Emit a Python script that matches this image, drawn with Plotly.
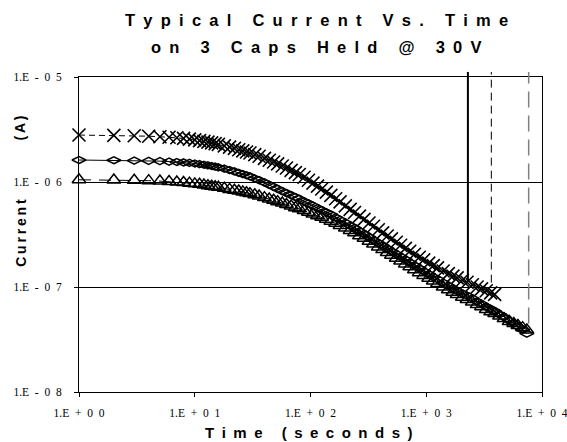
import math
import plotly.graph_objects as go

# ---------------- data ----------------
time_s = [1, 2, 3, 4, 5, 6, 7, 8, 9, 10, 11, 12, 13, 14, 15, 16, 18, 20, 22, 24, 26, 28, 30,
          33, 36, 40, 44, 48, 52, 57, 62, 68, 74, 80, 88, 96,
          105, 115, 125, 137, 150, 165, 180, 200, 220, 240, 265, 290, 320, 350, 385, 420, 460, 500,
          550, 600, 660, 720, 790, 870, 950, 1050, 1150, 1250,
          1400, 1550, 1700, 1850, 2050, 2250, 2500, 2750, 3000, 3300, 3600, 3900,
          4300, 4700, 5200, 5700, 6200, 6800, 7400]

cap_x_current = [2.80e-6, 2.78e-6, 2.76e-6, 2.73e-6, 2.70e-6, 2.67e-6, 2.64e-6, 2.60e-6, 2.56e-6, 2.52e-6,
                 2.48e-6, 2.44e-6, 2.40e-6, 2.36e-6, 2.32e-6, 2.28e-6, 2.21e-6, 2.15e-6, 2.09e-6, 2.03e-6,
                 1.98e-6, 1.93e-6, 1.89e-6, 1.82e-6, 1.76e-6, 1.68e-6, 1.61e-6, 1.55e-6, 1.49e-6, 1.42e-6,
                 1.36e-6, 1.29e-6, 1.23e-6, 1.18e-6, 1.11e-6, 1.04e-6,
                 9.75e-7, 9.13e-7, 8.58e-7, 8.00e-7, 7.46e-7, 6.92e-7, 6.46e-7, 5.93e-7, 5.49e-7, 5.12e-7,
                 4.73e-7, 4.40e-7, 4.07e-7, 3.79e-7, 3.51e-7, 3.28e-7, 3.06e-7, 2.87e-7,
                 2.67e-7, 2.50e-7, 2.33e-7, 2.19e-7, 2.05e-7, 1.92e-7, 1.81e-7, 1.69e-7, 1.60e-7, 1.52e-7,
                 1.42e-7, 1.34e-7, 1.27e-7, 1.22e-7, 1.16e-7, 1.11e-7, 1.05e-7, 1.00e-7, 9.6e-8, 9.2e-8,
                 8.8e-8, 8.5e-8]

cap_diamond_current = [1.62e-6, 1.61e-6, 1.60e-6, 1.59e-6, 1.58e-6, 1.565e-6, 1.55e-6, 1.535e-6, 1.52e-6, 1.50e-6,
                       1.48e-6, 1.46e-6, 1.44e-6, 1.42e-6, 1.40e-6, 1.38e-6, 1.34e-6, 1.30e-6, 1.26e-6, 1.22e-6,
                       1.19e-6, 1.16e-6, 1.13e-6, 1.08e-6, 1.04e-6, 9.9e-7, 9.4e-7, 9.0e-7, 8.6e-7, 8.2e-7,
                       7.85e-7, 7.5e-7, 7.2e-7, 6.9e-7, 6.55e-7, 6.25e-7,
                       5.95e-7, 5.65e-7, 5.4e-7, 5.15e-7, 4.9e-7, 4.6e-7, 4.37e-7, 4.1e-7, 3.85e-7, 3.65e-7,
                       3.4e-7, 3.2e-7, 3.0e-7, 2.8e-7, 2.63e-7, 2.48e-7, 2.33e-7, 2.2e-7,
                       2.07e-7, 1.95e-7, 1.83e-7, 1.72e-7, 1.61e-7, 1.51e-7, 1.42e-7, 1.33e-7, 1.25e-7, 1.19e-7,
                       1.10e-7, 1.03e-7, 9.7e-8, 9.2e-8, 8.7e-8, 8.3e-8, 7.8e-8, 7.3e-8, 6.9e-8, 6.5e-8,
                       6.2e-8, 5.9e-8, 5.5e-8, 5.2e-8, 4.8e-8, 4.5e-8, 4.2e-8, 3.9e-8, 3.6e-8]

cap_triangle_current = [1.05e-6, 1.045e-6, 1.04e-6, 1.03e-6, 1.02e-6, 1.01e-6, 1.00e-6, 9.9e-7, 9.75e-7, 9.6e-7,
                        9.5e-7, 9.35e-7, 9.2e-7, 9.1e-7, 9.0e-7, 8.9e-7, 8.7e-7, 8.5e-7, 8.35e-7, 8.2e-7,
                        8.05e-7, 7.9e-7, 7.75e-7, 7.55e-7, 7.35e-7, 7.1e-7, 6.9e-7, 6.7e-7, 6.5e-7, 6.3e-7,
                        6.1e-7, 5.9e-7, 5.7e-7, 5.55e-7, 5.35e-7, 5.15e-7,
                        4.95e-7, 4.78e-7, 4.62e-7, 4.43e-7, 4.24e-7, 4.04e-7, 3.86e-7, 3.65e-7, 3.46e-7, 3.28e-7,
                        3.08e-7, 2.91e-7, 2.73e-7, 2.57e-7, 2.41e-7, 2.27e-7, 2.13e-7, 2.01e-7,
                        1.88e-7, 1.77e-7, 1.66e-7, 1.56e-7, 1.46e-7, 1.37e-7, 1.29e-7, 1.21e-7, 1.14e-7, 1.08e-7,
                        1.00e-7, 9.4e-8, 8.9e-8, 8.5e-8, 8.0e-8, 7.6e-8, 7.2e-8, 6.8e-8, 6.5e-8, 6.1e-8,
                        5.8e-8, 5.6e-8, 5.3e-8, 5.0e-8, 4.7e-8, 4.5e-8, 4.3e-8, 4.1e-8, 3.9e-8]

# vertical marker lines (time, lower end of line)
vline_time = [2290, 3650, 7670]
vline_low = [1.15e-7, 1.1e-7, 4.5e-8]
vline_dash = ["solid", "8px,5px", "16px,8px"]
vline_color = ["#000000", "#000000", "#808080"]
vline_width = [2, 1, 1.5]

x_tick_vals = [1, 10, 100, 1000, 10000]
x_tick_labels = ["1.E+00", "1.E+01", "1.E+02", "1.E+03", "1.E+04"]
y_tick_vals = [1e-8, 1e-7, 1e-6, 1e-5]
y_tick_labels = ["1.E-08", "1.E-07", "1.E-06", "1.E-05"]

title_line1 = "Typical Current Vs. Time"
title_line2 = "on 3 Caps Held @ 30V"
x_title = "Time (seconds)"
y_title_word = "Current"
y_title_unit = "(A)"

# ---------------- helpers ----------------
EN = "\u2002"
THIN = "\u2009"


def spread(s, gap):
    return gap.join(list(s))


def tick_fmt(s):
    # "1.E-05" -> "1.E - 0 5" style spacing
    head, tail = s[:3], s[3:]
    return head + EN + EN.join(list(tail))


SANS = "Liberation Sans, Arial, sans-serif"
SERIF = "Liberation Serif, Times New Roman, serif"

fig = go.Figure()

fig.add_trace(go.Scatter(
    x=time_s[:len(cap_triangle_current)], y=cap_triangle_current, mode="lines+markers",
    line=dict(color="black", width=1, dash="12px,8px"),
    marker=dict(symbol="triangle-up-open", size=12, color="black", line=dict(color="black", width=1.5)),
    showlegend=False, cliponaxis=False))

fig.add_trace(go.Scatter(
    x=time_s[:len(cap_diamond_current)], y=cap_diamond_current, mode="lines+markers",
    line=dict(color="black", width=1),
    marker=dict(symbol="diamond-wide-open", size=10, color="black", line=dict(color="black", width=1.5)),
    showlegend=False, cliponaxis=False))

fig.add_trace(go.Scatter(
    x=time_s[:len(cap_x_current)], y=cap_x_current, mode="lines+markers",
    line=dict(color="black", width=1, dash="6px,4px"),
    marker=dict(symbol="x-thin-open", size=13, color="black", line=dict(color="black", width=1.6)),
    showlegend=False, cliponaxis=False))

YMIN_LOG, YMAX_LOG = -8, -5
for t, low, dsh, col, w in zip(vline_time, vline_low, vline_dash, vline_color, vline_width):
    fig.add_shape(type="line", xref="x", yref="paper",
                  x0=t, x1=t,
                  y0=(math.log10(low) - YMIN_LOG) / (YMAX_LOG - YMIN_LOG), y1=1.016,
                  line=dict(color=col, width=w, dash=dsh), layer="above")

fig.update_xaxes(type="log", range=[0, 4], tickvals=x_tick_vals,
                 ticktext=[tick_fmt(s) for s in x_tick_labels],
                 ticks="outside", ticklen=4, tickcolor="black", ticklabelstandoff=6,
                 ticklabeloverflow="allow", automargin=False,
                 showline=True, linecolor="black", linewidth=1, mirror=True,
                 showgrid=False, zeroline=False,
                 tickfont=dict(family=SERIF, size=11.5, color="black"))

fig.update_yaxes(type="log", range=[YMIN_LOG, YMAX_LOG], tickvals=y_tick_vals,
                 ticktext=[tick_fmt(s) for s in y_tick_labels],
                 ticks="outside", ticklen=4, tickcolor="black", ticklabelstandoff=10,
                 ticklabeloverflow="allow", automargin=False,
                 showline=True, linecolor="black", linewidth=1, mirror=True,
                 showgrid=True, gridcolor="black", gridwidth=1, zeroline=False,
                 tickfont=dict(family=SERIF, size=11.5, color="black"))

annotations = [
    dict(text=spread(title_line1, EN), x=0.514, y=1.181, xref="paper", yref="paper",
         showarrow=False, xanchor="center", yanchor="middle",
         font=dict(family=SANS, size=16.5, color="black", weight="bold")),
    dict(text=spread(title_line2, EN), x=0.514, y=1.095, xref="paper", yref="paper",
         showarrow=False, xanchor="center", yanchor="middle",
         font=dict(family=SANS, size=16.5, color="black", weight="bold")),
    dict(text=spread(x_title, EN), x=0.497, y=-0.127, xref="paper", yref="paper",
         showarrow=False, xanchor="center", yanchor="middle",
         font=dict(family=SANS, size=15, color="black", weight="bold")),
    dict(text=spread(y_title_word, THIN), x=-0.127, y=0.506, xref="paper", yref="paper",
         showarrow=False, xanchor="center", yanchor="middle", textangle=-90,
         font=dict(family=SANS, size=14, color="black", weight="bold")),
    dict(text=spread(y_title_unit, THIN), x=-0.127, y=0.837, xref="paper", yref="paper",
         showarrow=False, xanchor="center", yanchor="middle", textangle=-90,
         font=dict(family=SANS, size=14, color="black", weight="bold")),
]

fig.update_layout(
    width=567, height=442,
    margin=dict(l=79, r=25, t=77, b=50, autoexpand=False),
    paper_bgcolor="white", plot_bgcolor="white",
    showlegend=False,
    annotations=annotations,
)

fig.write_html("out.html",
               config={"displayModeBar": False},
               post_script="document.body.style.margin='0px';document.body.style.overflow='hidden';")
